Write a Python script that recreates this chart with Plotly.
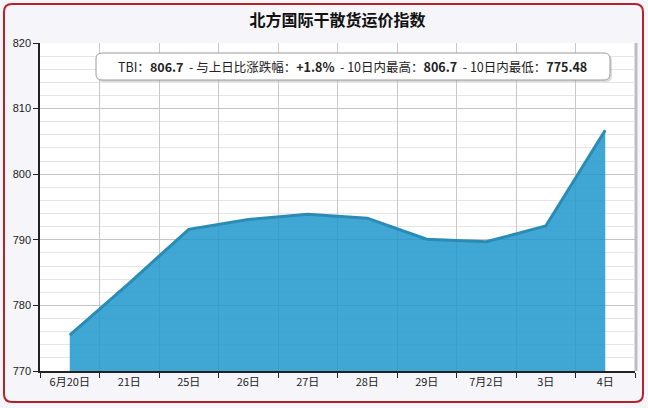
import plotly.graph_objects as go

categories = ["6月20日", "21日", "25日", "26日", "27日", "28日", "29日", "7月2日", "3日", "4日"]
values = [775.48, 783.4, 791.6, 793.1, 793.9, 793.3, 790.1, 789.7, 792.1, 806.7]
y_ticks = [770, 780, 790, 800, 810, 820]
title_text = "北方国际干散货运价指数"
info_text = "TBI：<b>806.7</b>  - 与上日比涨跌幅：<b>+1.8%</b>  - 10日内最高：<b>806.7</b>  - 10日内最低：<b>775.48</b>"

W, H = 648, 408
L, R, T, B = 40, 13, 43, 37
pw, ph = W - L - R, H - T - B

def px(x):
    return (x - L) / pw

def py(y):
    return (H - B - y) / ph

def rrect(x0, y0, x1, y1, r):
    # rounded rectangle path in paper coords from pixel coords
    path = (f"M {px(x0+r)},{py(y0)} L {px(x1-r)},{py(y0)} "
            f"Q {px(x1)},{py(y0)} {px(x1)},{py(y0+r)} "
            f"L {px(x1)},{py(y1-r)} Q {px(x1)},{py(y1)} {px(x1-r)},{py(y1)} "
            f"L {px(x0+r)},{py(y1)} Q {px(x0)},{py(y1)} {px(x0)},{py(y1-r)} "
            f"L {px(x0)},{py(y0+r)} Q {px(x0)},{py(y0)} {px(x0+r)},{py(y0)} Z")
    return path

fig = go.Figure()
fig.add_trace(go.Scatter(
    x=categories, y=values, mode="lines", fill="tozeroy",
    line=dict(color="#2a8bb5", width=3),
    fillcolor="rgba(30,152,206,0.85)",
    hoverinfo="x+y",
))

shapes = [
    # outer red frame
    dict(type="path", xref="paper", yref="paper", path=rrect(4, 4, 643, 402, 8),
         line=dict(color="#b5222a", width=2), fillcolor="rgba(0,0,0,0)", layer="above"),
    # right shadow line
    dict(type="line", xref="paper", yref="paper", x0=px(636), x1=px(636), y0=py(43), y1=py(371),
         line=dict(color="#bdbdc4", width=3), layer="below"),
    # info box shadow
    dict(type="path", xref="paper", yref="paper", path=rrect(98, 55, 612, 82, 6),
         line=dict(color="rgba(0,0,0,0)", width=0), fillcolor="rgba(120,120,120,0.25)", layer="above"),
    # info box
    dict(type="path", xref="paper", yref="paper", path=rrect(96, 53, 610, 80, 6),
         line=dict(color="#9a9a9a", width=1), fillcolor="white", layer="above"),
]

fig.update_layout(
    width=W, height=H,
    margin=dict(l=L, r=R, t=T, b=B),
    paper_bgcolor="#f6f6fa",
    plot_bgcolor="white",
    showlegend=False,
    shapes=shapes,
    title=dict(text="<b>" + title_text + "</b>", x=0.5, xref="paper", xanchor="center",
               y=1 - 20 / H, yref="container", yanchor="middle",
               font=dict(family="Noto Sans CJK SC", size=16, color="#111")),
    annotations=[dict(text=info_text, xref="paper", yref="paper",
                      x=px(352), y=py(66.5), xanchor="center", yanchor="middle",
                      showarrow=False,
                      font=dict(family="Noto Sans CJK SC, Open Sans", size=12.5, color="#222"))],
    font=dict(family="Noto Sans CJK SC, Liberation Sans", size=11, color="#222"),
)

fig.update_xaxes(
    type="category", range=[-0.5, len(categories) - 0.5],
    tickson="boundaries", ticks="outside", ticklen=5, tickcolor="#222",
    showline=True, linecolor="#222", linewidth=1.5,
    showgrid=True, gridcolor="#c8c8c8", gridwidth=1,
    tickfont=dict(size=11, color="#222"),
)
fig.update_yaxes(
    range=[770, 820], tickvals=y_ticks, ticks="outside", ticklen=5, tickcolor="#222",
    showline=True, linecolor="#222", linewidth=1.5,
    showgrid=True, gridcolor="#c4c4c4", gridwidth=1,
    minor=dict(dtick=2, showgrid=True, gridcolor="#e6e6e6", ticks=""),
    tickfont=dict(family="Liberation Sans", size=11, color="#222"),
    zeroline=False,
)

fig.write_html("out.html")
